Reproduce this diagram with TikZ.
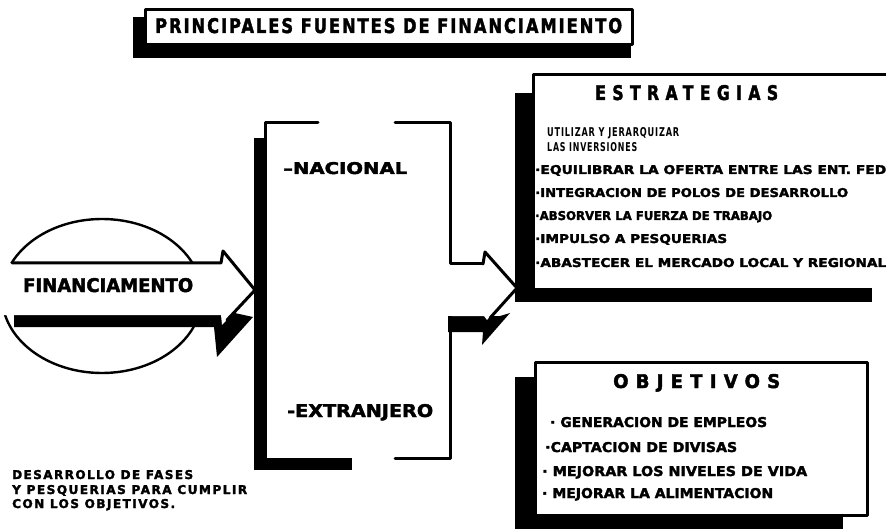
\documentclass[tikz,border=0pt]{standalone}
\usepackage{fontspec}
\setmainfont{DejaVu Sans}
\newfontfamily\heavy{DejaVu Sans Bold}[FakeBold=2.2]
\newfontfamily\heavymid{DejaVu Sans Bold}[FakeBold=2.2, LetterSpace=12]
\newfontfamily\heavywide{DejaVu Sans Bold}[FakeBold=2.2, LetterSpace=40]
\newfontfamily\plainmid{DejaVu Sans Bold}[LetterSpace=10]
\newcommand\fitto[3]{\resizebox{#1pt}{#2pt}{#3}}
\begin{document}
\begin{tikzpicture}[x=1pt,y=-1pt,
  txt/.style={inner sep=0pt, anchor=base west, font=\heavy},
  edge/.style={line width=3pt, line cap=round, line join=round},
  shadowfill/.style={fill=black, draw=none}]
\useasboundingbox (0,0) rectangle (886,529);
\fill[white] (0,0) rectangle (886,529);

% ---------- title ----------
\fill[shadowfill] (133,17) rectangle (146,58);
\fill[shadowfill] (133,45) rectangle (631,58);
\draw[edge, fill=white] (145,10) rectangle (632,45);
\node[txt] (title) at (155,33) {\fitto{467}{15}{\heavymid PRINCIPALES FUENTES DE FINANCIAMIENTO}};

% ---------- left circle and arrow ----------
\draw[line width=2.4pt, fill=white] (102,296) ellipse [x radius=100, y radius=77];
\fill[shadowfill] (14,312) -- (230,312) -- (253,317) -- (217,357) -- (214,327) -- (14,327) -- cycle;
\fill[white] (0,263) -- (221,263) -- (223,251) -- (255,290) -- (222,325) -- (221,315) -- (0,315) -- cycle;
\draw[edge] (12,263) -- (221,263) -- (223,251) -- (255,290) -- (227,320);
\node[txt] (fin) at (23,292) {\fitto{170}{14}{FINANCIAMENTO}};

% ---------- middle bracket box ----------
\fill[shadowfill] (254,138) rectangle (266,470);
\fill[shadowfill] (254,458) rectangle (352,470);
\draw[edge] (318,123) -- (265,123) -- (265,458);
\draw[edge] (395,123) -- (450,123) -- (450,264) -- (483,264);
\draw[edge] (450,332) -- (450,458) -- (395,458);
\node[txt] (nac) at (283,174) {\fitto{124}{12}{–NACIONAL}};
\node[txt] (ext) at (287,417) {\fitto{146}{13}{-EXTRANJERO}};

% right arrow and its shadow
\fill[shadowfill] (448,316) -- (500,316) -- (510,313) -- (482,345) -- (483,332) -- (448,332) -- cycle;
\fill[white] (452,266) -- (483,266) -- (487,256) -- (514,288) -- (487,320) -- (484,316) -- (452,316) -- cycle;
\draw[edge] (483,264) -- (485,252) -- (517,288) -- (490,318);

% ---------- strategies box ----------
\fill[shadowfill] (515,93) rectangle (533,302);
\fill[shadowfill] (515,288) rectangle (872,302);
\draw[edge] (533,288) -- (533,75) -- (890,75);
\node[txt] (est) at (595,100) {\fitto{183}{15}{\heavywide ESTRATEGIAS}};
\node[txt] (util) at (547,137) {\fitto{132}{9}{\plainmid UTILIZAR Y JERARQUIZAR}};
\node[txt] (las) at (547,152) {\fitto{90}{9}{\plainmid LAS INVERSIONES}};
\node[txt] (e1) at (535,174) {\fitto{351}{9}{·EQUILIBRAR LA OFERTA ENTRE LAS ENT. FED}};
\node[txt] (e2) at (535,197) {\fitto{313}{9}{·INTEGRACION DE POLOS DE DESARROLLO}};
\node[txt] (e3) at (535,220) {\fitto{237}{9}{·ABSORVER LA FUERZA DE TRABAJO}};
\node[txt] (e4) at (535,243) {\fitto{192}{9}{·IMPULSO A PESQUERIAS}};
\node[txt] (e5) at (535,267) {\fitto{351}{9}{·ABASTECER EL MERCADO LOCAL Y REGIONAL}};

% ---------- objectives box ----------
\fill[shadowfill] (515,377) rectangle (535,530);
\fill[shadowfill] (515,515) rectangle (843,530);
\draw[edge] (535,362) rectangle (867,515);
\node[txt] (obj) at (613,388) {\fitto{167}{14}{\heavywide OBJETIVOS}};
\node[txt] (o1) at (550,427) {\fitto{217}{10}{· GENERACION DE EMPLEOS}};
\node[txt] (o2) at (545,452) {\fitto{192}{10}{·CAPTACION DE DIVISAS}};
\node[txt] (o3) at (542,476) {\fitto{265}{10}{· MEJORAR LOS NIVELES DE VIDA}};
\node[txt] (o4) at (542,498) {\fitto{231}{10}{· MEJORAR LA ALIMENTACION}};

% ---------- bottom-left note ----------
\node[txt] (b1) at (12,479) {\fitto{181}{9}{\heavymid DESARROLLO DE FASES}};
\node[txt] (b2) at (12,494) {\fitto{235}{9}{\heavymid Y PESQUERIAS PARA CUMPLIR}};
\node[txt] (b3) at (12,508) {\fitto{163}{9}{\heavymid CON LOS OBJETIVOS.}};
\end{tikzpicture}
\end{document}
